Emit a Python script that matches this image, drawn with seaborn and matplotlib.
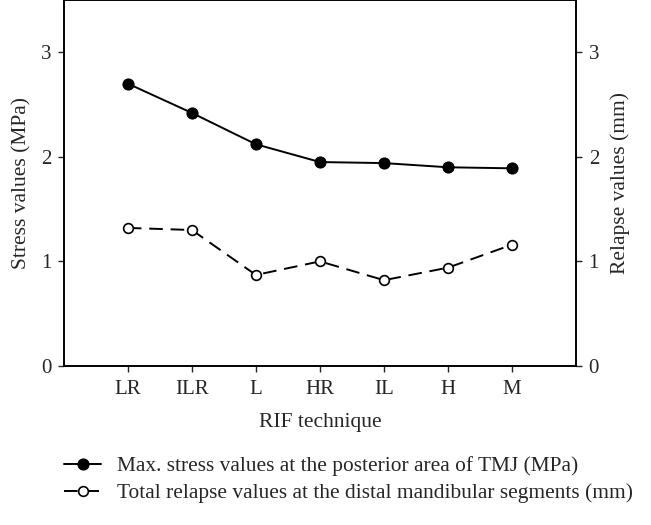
import pandas as pd
import matplotlib.pyplot as plt
import seaborn as sns

# data
techniques = ["LR", "ILR", "L", "HR", "IL", "H", "M"]
stress = [2.70, 2.42, 2.12, 1.95, 1.94, 1.90, 1.89]
relapse = [1.32, 1.30, 0.87, 1.00, 0.82, 0.94, 1.16]

df = pd.DataFrame({"technique": techniques, "stress": stress, "relapse": relapse})
df["pos"] = range(len(techniques))

sns.set_style("ticks")
plt.rcParams["font.family"] = ["Liberation Serif", "DejaVu Serif"]
plt.rcParams["font.size"] = 15

fig = plt.figure(figsize=(6.51, 5.25), dpi=100)
ax = fig.add_axes([0.098, 0.303, 0.787, 0.697])
ax2 = ax.twinx()

sns.lineplot(data=df, x="pos", y="stress", ax=ax, color="black", linewidth=1.4,
             marker="o", markersize=8, markerfacecolor="black",
             markeredgecolor="black", label="Max. stress values at the posterior area of TMJ (MPa)",
             legend=False)
sns.lineplot(data=df, x="pos", y="relapse", ax=ax2, color="black", linewidth=1.4,
             marker="o", markersize=7, markerfacecolor="white", markeredgecolor="black",
             markeredgewidth=1.2, dashes=False, linestyle=(0, (7, 4)),
             label="Total relapse values at the distal mandibular segments (mm)",
             legend=False)

for a in (ax, ax2):
    a.set_ylim(0, 3.5)
    a.set_yticks([0, 1, 2, 3])
    a.tick_params(direction="out", length=4, width=1, labelsize=15, pad=5)
    for s in a.spines.values():
        s.set_linewidth(1.2)
        s.set_color("black")

ax.set_xlim(-1, 7)
ax.set_xticks(df["pos"])
ax.set_xticklabels(techniques)
ax.tick_params(axis="x", pad=6)
ax.set_xlabel("RIF technique", fontsize=15.5, labelpad=10)
ax.set_ylabel("Stress values (MPa)", fontsize=15.5, labelpad=7)
ax2.set_ylabel("Relapse values (mm)", fontsize=15.5, labelpad=8)

h1, l1 = ax.get_legend_handles_labels()
h2, l2 = ax2.get_legend_handles_labels()
fig.legend(h1 + h2, l1 + l2, loc="upper left", bbox_to_anchor=(0.085, 0.147),
           frameon=False, fontsize=15.4, handlelength=1.75, handletextpad=0.75,
           labelspacing=0.32, borderaxespad=0)

fig.savefig("out.png", dpi=100)
